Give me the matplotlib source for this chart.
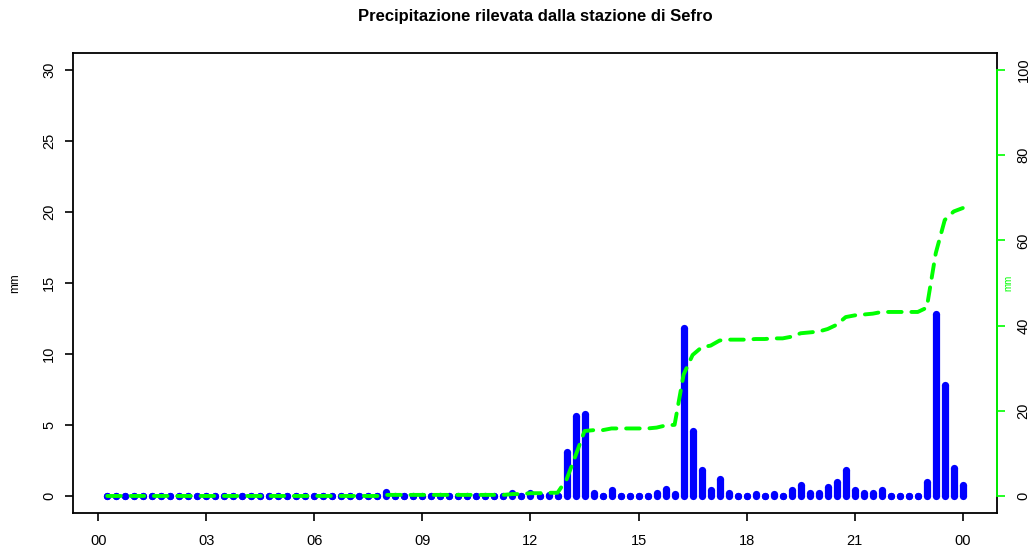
import numpy as np
import matplotlib.pyplot as plt

plt.rcParams['font.family'] = ['Liberation Sans', 'DejaVu Sans']

# rain every 15 minutes, from 00:15 to 24:00 (mm)
rain = [
    0, 0, 0, 0, 0, 0, 0, 0, 0, 0, 0, 0,                        # 00-03
    0, 0, 0, 0, 0, 0, 0, 0, 0, 0, 0, 0,                        # 03-06
    0, 0, 0, 0, 0, 0, 0, 0.25, 0, 0, 0, 0,                     # 06-09
    0, 0, 0, 0, 0, 0, 0, 0, 0, 0.2, 0, 0.2,                    # 09-12
    0, 0.1, 0, 3.1, 5.6, 5.8, 0.2, 0, 0.4, 0, 0, 0,            # 12-15
    0, 0.2, 0.5, 0.15, 11.8, 4.6, 1.8, 0.4, 1.2, 0.2, 0, 0,    # 15-18
    0.15, 0, 0.15, 0, 0.4, 0.8, 0.2, 0.2, 0.6, 1.0, 1.8, 0.4,  # 18-21
    0.2, 0.2, 0.4, 0, 0, 0, 0, 1.0, 12.8, 7.8, 2.0, 0.8,       # 21-24
]
hour_ticks = [0, 3, 6, 9, 12, 15, 18, 21, 24]
hour_labels = ['00', '03', '06', '09', '12', '15', '18', '21', '00']
left_ticks = [0, 5, 10, 15, 20, 25, 30]
right_ticks = [0, 20, 40, 60, 80, 100]

hours = np.arange(1, len(rain) + 1) * 0.25
cum = np.cumsum(rain)

fig = plt.figure(figsize=(10.31, 5.51), dpi=100)
ax = fig.add_axes([73/1031, 1 - 513/551, (997 - 73)/1031, (513 - 53)/551])

# thick bars with round ends (like R type="h"), zero values show as dots
bar_w = 5.2
ax.vlines(hours, 0, rain, colors='#0000ff', linewidth=bar_w, capstyle='butt')
ax.plot(hours, np.zeros(len(rain)), 'o', color='#0000ff', ms=bar_w, mew=0)
ax.plot(hours, rain, 'o', color='#0000ff', ms=bar_w, mew=0)

ax.set_xlim(-0.7, 24.95)
ax.set_ylim(-1.2, 31.2)
ax.set_xticks(hour_ticks)
ax.set_xticklabels(hour_labels)
ax.set_yticks(left_ticks)
ax.tick_params(direction='out', length=6, width=1.2, labelsize=10.5, colors='black')
ax.tick_params(axis='x', pad=9)
ax.tick_params(axis='y', pad=6)
plt.setp(ax.get_yticklabels(), rotation=90, va='center')
for s in ax.spines.values():
    s.set_linewidth(1.3)

ax2 = ax.twinx()
ax2.plot(hours, cum, color='#00ff00', lw=2.8, linestyle=(0, (3.5, 2.5)),
         dash_capstyle='round')
ax2.set_ylim(-4, 104)
ax2.set_yticks(right_ticks)
for side in ['top', 'bottom', 'left']:
    ax2.spines[side].set_visible(False)
ax2.spines['right'].set_color('#00ff00')
ax2.spines['right'].set_linewidth(1.3)
ax2.spines['right'].set_bounds(0, 100)
ax2.tick_params(direction='out', length=6, width=1.2, labelsize=10.5,
                color='#00ff00', labelcolor='black', pad=8)
plt.setp(ax2.get_yticklabels(), rotation=90, va='center')

fig.text(535/1031, 1 - 17/551, 'Precipitazione rilevata dalla stazione di Sefro',
         ha='center', va='center', fontsize=12, fontweight='bold')
fig.text(15/1031, 1 - 283/551, 'mm', rotation=90, ha='center', va='center',
         fontsize=8.5)
fig.text(1008/1031, 1 - 283/551, 'mm', rotation=90, ha='center', va='center',
         fontsize=7, color='#00ff00')

fig.savefig('out.png', dpi=100)
